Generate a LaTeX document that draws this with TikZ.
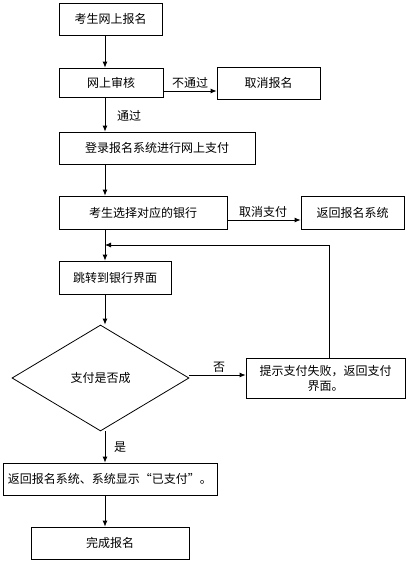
\documentclass[tikz,border=0pt]{standalone}
\usepackage{fontspec}
\setmainfont{Noto Sans CJK SC}
\usetikzlibrary{shapes.geometric,arrows.meta,calc}
\begin{document}
\begin{tikzpicture}[x=1pt,y=-1pt,
  box/.style={draw,line width=0.8pt,inner sep=0pt,align=center,font=\fontsize{12}{15}\selectfont},
  dia/.style={draw,line width=0.8pt,diamond,inner sep=0pt,font=\fontsize{12}{15}\selectfont},
  arr/.style={line width=0.8pt,-{Latex[length=6pt,width=5pt]}},
  ln/.style={line width=0.8pt},
  lab/.style={font=\fontsize{12}{15}\selectfont,inner sep=0pt}]
\useasboundingbox (0,0) rectangle (407,563);
\coordinate (sp) at (105,0);
\node[box,minimum width=103,minimum height=32] (b1) at (110.5,19) {考生网上报名};
\node[box,minimum width=104,minimum height=29] (b2) at (111,82.5) {网上审核};
\node[box,minimum width=103,minimum height=32] (b3) at (268.5,83) {取消报名};
\node[box,minimum width=196,minimum height=32] (b4) at (157,148) {登录报名系统进行网上支付};
\node[box,minimum width=168,minimum height=33] (b5) at (143,212.5) {考生选择对应的银行};
\node[box,minimum width=103,minimum height=33] (b6) at (352.5,212.5) {返回报名系统};
\node[box,minimum width=112,minimum height=33] (b7) at (115,277.5) {跳转到银行界面};
\node[dia,minimum width=177,minimum height=106] (d) at (100.5,378) {支付是否成};
\node[box,minimum width=159,minimum height=40,text width=150] (b8) at (325.5,378) {提示支付失败，返回支付\\界面。};
\node[box,minimum width=214,minimum height=32] (b9) at (110,479) {返回报名系统、系统显示“已支付”。};
\node[box,minimum width=158,minimum height=32] (b10) at (110,543) {完成报名};
\coordinate (y1) at (0,91);
\coordinate (y2) at (0,220);
\coordinate (y3) at (0,375);
\coordinate (fb) at (329,245);
\coordinate (fbl) at (105,245);
\draw[arr] (b1.south -| sp) -- (b2.north -| sp);
\draw[arr] (b2.east |- y1) -- (b3.west |- y1);
\draw[arr] (b2.south -| sp) -- (b4.north -| sp);
\draw[arr] (b4.south -| sp) -- (b5.north -| sp);
\draw[arr] (b5.east |- y2) -- (b6.west |- y2);
\draw[arr] (b5.south -| sp) -- (b7.north -| sp);
\draw[arr] (b7.south -| sp) -- (d.north -| sp);
\draw[arr] (d.east |- y3) -- (b8.west |- y3);
\draw[ln] (b8.north -| fb) -- (fb);
\draw[arr] (fb) -- (fbl);
\draw[arr] (d.south -| sp) -- (b9.north -| sp);
\draw[arr] (b9.south -| sp) -- (b10.north -| sp);
\node[lab] (l1) at (190,83) {不通过};
\node[lab] (l2) at (129,116) {通过};
\node[lab] (l3) at (263,212) {取消支付};
\node[lab] (l4) at (219,367) {否};
\node[lab] (l5) at (120,447) {是};
\end{tikzpicture}
\end{document}
